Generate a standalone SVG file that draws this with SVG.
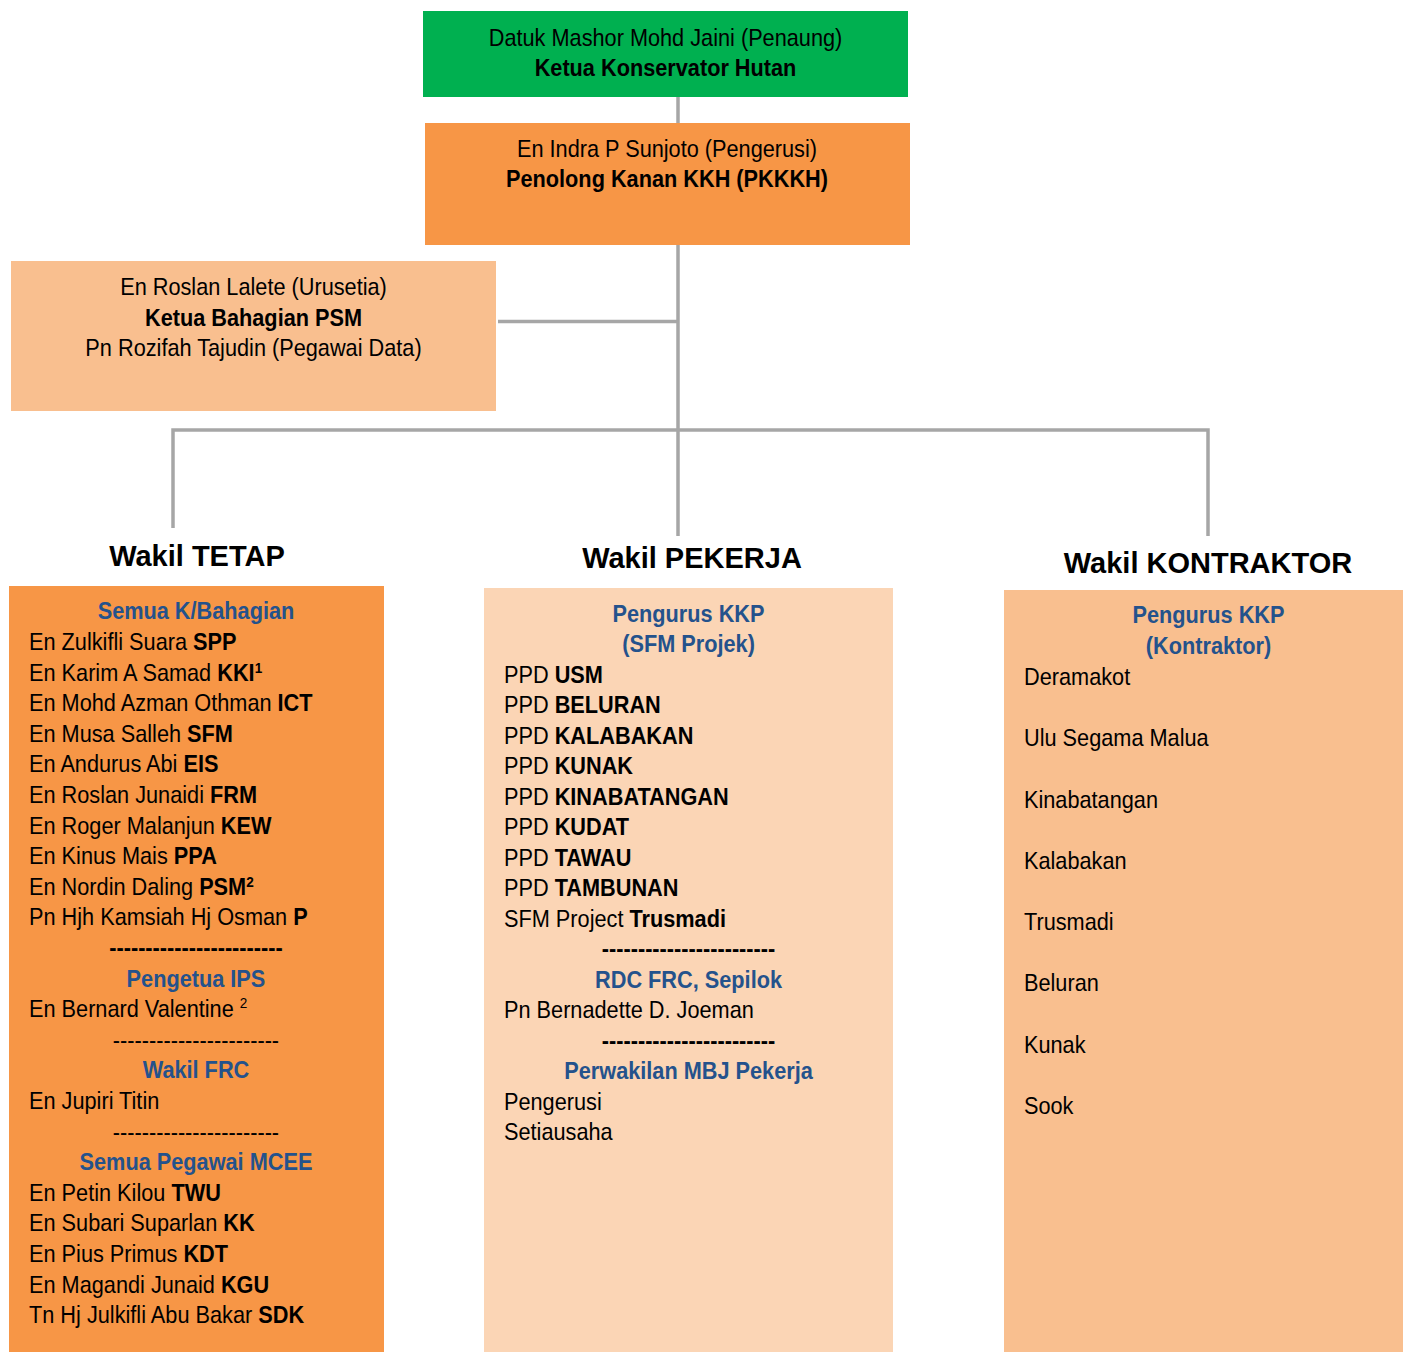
<svg xmlns="http://www.w3.org/2000/svg" width="1403" height="1352" viewBox="0 0 1403 1352">
<style>
text{font-family:"Liberation Sans",Arial,sans-serif;font-size:24px;fill:#000}
.b{font-weight:bold}
.c{text-anchor:middle}
.h{font-weight:bold;fill:#24528C;text-anchor:middle}
.title{font-size:29px;font-weight:bold;text-anchor:middle}
.sup{font-size:15px}
.conn{stroke:#A6A6A6;stroke-width:3.5;fill:none}
</style>
<rect width="1403" height="1352" fill="#fff"/>
<g id="connectors">
<path class="conn" d="M678 97V536"/>
<path class="conn" d="M498 321.5H678"/>
<path class="conn" d="M173 528V430H1208V536"/>
</g>
<g id="node-penaung">
<rect x="423" y="11" width="485" height="86" fill="#00B050"/>
<g transform="translate(665.5 0) scale(0.905 1)">
<text class="c" x="0" y="46">Datuk Mashor Mohd Jaini (Penaung)</text>
<text class="c b" x="0" y="76.5">Ketua Konservator Hutan</text>
</g>
</g>
<g id="node-pengerusi">
<rect x="425" y="123" width="485" height="122" fill="#F79646"/>
<g transform="translate(667 0) scale(0.905 1)">
<text class="c" x="0" y="157.5">En Indra P Sunjoto (Pengerusi)</text>
<text class="c b" x="0" y="187.5">Penolong Kanan KKH (PKKKH)</text>
</g>
</g>
<g id="node-urusetia">
<rect x="11" y="261" width="485" height="150" fill="#F9BF8F"/>
<g transform="translate(253.5 0) scale(0.905 1)">
<text class="c" x="0" y="295.5">En Roslan Lalete (Urusetia)</text>
<text class="c b" x="0" y="326">Ketua Bahagian PSM</text>
<text class="c" x="0" y="356.5">Pn Rozifah Tajudin (Pegawai Data)</text>
</g>
</g>
<g id="node-tetap">
<text class="title" x="197" y="566">Wakil TETAP</text>
<rect x="9" y="586" width="375" height="766" fill="#F79646"/>
<g transform="translate(29 0) scale(0.905 1)">
<text class="h" x="184.5" y="619.5">Semua K/Bahagian</text>
<text x="0" y="650">En Zulkifli Suara <tspan class="b">SPP</tspan></text>
<text x="0" y="680.6">En Karim A Samad <tspan class="b">KKI</tspan><tspan class="b sup" dy="-8">1</tspan></text>
<text x="0" y="711.2">En Mohd Azman Othman <tspan class="b">ICT</tspan></text>
<text x="0" y="741.8">En Musa Salleh <tspan class="b">SFM</tspan></text>
<text x="0" y="772.4">En Andurus Abi <tspan class="b">EIS</tspan></text>
<text x="0" y="803">En Roslan Junaidi <tspan class="b">FRM</tspan></text>
<text x="0" y="833.6">En Roger Malanjun <tspan class="b">KEW</tspan></text>
<text x="0" y="864.2">En Kinus Mais <tspan class="b">PPA</tspan></text>
<text x="0" y="894.8">En Nordin Daling <tspan class="b">PSM</tspan><tspan class="b sup" dy="-8">2</tspan></text>
<text x="0" y="925.4">Pn Hjh Kamsiah Hj Osman <tspan class="b">P</tspan></text>
<text class="c b" x="184.5" y="956">------------------------</text>
<text class="h" x="184.5" y="986.6">Pengetua IPS</text>
<text x="0" y="1017.2">En Bernard Valentine <tspan class="sup" dy="-9">2</tspan></text>
<text class="c" x="184.5" y="1047.8">-----------------------</text>
<text class="h" x="184.5" y="1078.4">Wakil FRC</text>
<text x="0" y="1109">En Jupiri Titin</text>
<text class="c" x="184.5" y="1139.6">-----------------------</text>
<text class="h" x="184.5" y="1170.2">Semua Pegawai MCEE</text>
<text x="0" y="1200.8">En Petin Kilou <tspan class="b">TWU</tspan></text>
<text x="0" y="1231.4">En Subari Suparlan <tspan class="b">KK</tspan></text>
<text x="0" y="1262">En Pius Primus <tspan class="b">KDT</tspan></text>
<text x="0" y="1292.6">En Magandi Junaid <tspan class="b">KGU</tspan></text>
<text x="0" y="1323.2">Tn Hj Julkifli Abu Bakar <tspan class="b">SDK</tspan></text>
</g>
</g>
<g id="node-pekerja">
<text class="title" x="692" y="568">Wakil PEKERJA</text>
<rect x="484" y="588" width="409" height="764" fill="#FBD5B5"/>
<g transform="translate(504 0) scale(0.905 1)">
<text class="h" x="203.9" y="622">Pengurus KKP</text>
<text class="h" x="203.9" y="652.5">(SFM Projek)</text>
<text x="0" y="683">PPD <tspan class="b">USM</tspan></text>
<text x="0" y="713.5">PPD <tspan class="b">BELURAN</tspan></text>
<text x="0" y="744">PPD <tspan class="b">KALABAKAN</tspan></text>
<text x="0" y="774.5">PPD <tspan class="b">KUNAK</tspan></text>
<text x="0" y="805">PPD <tspan class="b">KINABATANGAN</tspan></text>
<text x="0" y="835.5">PPD <tspan class="b">KUDAT</tspan></text>
<text x="0" y="866">PPD <tspan class="b">TAWAU</tspan></text>
<text x="0" y="896.5">PPD <tspan class="b">TAMBUNAN</tspan></text>
<text x="0" y="927">SFM Project <tspan class="b">Trusmadi</tspan></text>
<text class="c b" x="203.9" y="957.5">------------------------</text>
<text class="h" x="203.9" y="988">RDC FRC, Sepilok</text>
<text x="0" y="1018.5">Pn Bernadette D. Joeman</text>
<text class="c b" x="203.9" y="1049">------------------------</text>
<text class="h" x="203.9" y="1079.5">Perwakilan MBJ Pekerja</text>
<text x="0" y="1110">Pengerusi</text>
<text x="0" y="1140.5">Setiausaha</text>
</g>
</g>
<g id="node-kontraktor">
<text class="title" x="1208" y="573">Wakil KONTRAKTOR</text>
<rect x="1004" y="590" width="399" height="762" fill="#F9BF8F"/>
<g transform="translate(1024 0) scale(0.905 1)">
<text class="h" x="203.9" y="623">Pengurus KKP</text>
<text class="h" x="203.9" y="654">(Kontraktor)</text>
<text x="0" y="685">Deramakot</text>
<text x="0" y="746.3">Ulu Segama Malua</text>
<text x="0" y="807.6">Kinabatangan</text>
<text x="0" y="868.9">Kalabakan</text>
<text x="0" y="930.2">Trusmadi</text>
<text x="0" y="991.5">Beluran</text>
<text x="0" y="1052.8">Kunak</text>
<text x="0" y="1114.1">Sook</text>
</g>
</g>
</svg>
